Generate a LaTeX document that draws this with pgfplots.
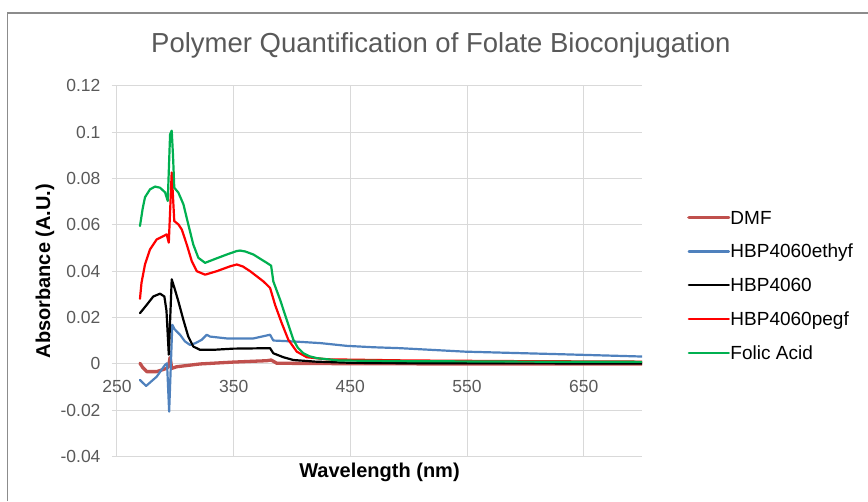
\documentclass[border=0pt]{standalone}
\usepackage{pgfplots}
\pgfplotsset{compat=1.18}
\usepackage{fontspec}
\setmainfont{Liberation Sans}
\definecolor{dmfc}{RGB}{192,80,77}
\definecolor{ethc}{RGB}{79,129,189}
\definecolor{folc}{RGB}{0,176,80}
\definecolor{txtgray}{RGB}{89,89,89}
\definecolor{gridc}{RGB}{217,217,217}
\definecolor{framec}{RGB}{140,140,140}
\begin{document}
\begin{tikzpicture}
\path[use as bounding box] (0pt,0pt) rectangle (868pt,501pt);
\draw[color=framec, line width=1.2pt] (7.3pt,0pt) -- (7.3pt,488pt) -- (868pt,488pt);
\begin{axis}[
  at={(117pt,44.3pt)}, anchor=south west,
  scale only axis, width=525pt, height=371pt,
  xmin=250, xmax=700, ymin=-0.04, ymax=0.12,
  xtick={250,350,450,550,650},
  xticklabels={250,350,450,550,650},
  ytick={-0.04,-0.02,0,0.02,0.04,0.06,0.08,0.1,0.12},
  yticklabels={-0.04,-0.02,0,0.02,0.04,0.06,0.08,0.1,0.12},
  axis lines*=left,
  axis line style={draw=gridc, line width=1pt},
  grid=major,
  major grid style={draw=gridc, line width=1pt},
  tick align=outside,
  ytick style={draw=gridc, line width=1pt},
  major tick length=5pt,
  xtick style={draw=none},
  tick label style={font=\fontsize{17.5}{21}\selectfont, text=txtgray},
  xticklabel style={yshift=85pt},
  yticklabel style={xshift=-8pt},
  title={Polymer Quantification of Folate Bioconjugation},
  title style={at={(axis description cs:0.617,1.0935)}, anchor=center, font=\fontsize{27.5}{32}\selectfont, text=txtgray},
  xlabel={Wavelength (nm)},
  xlabel style={at={(axis description cs:0.5,-0.0414)}, anchor=center, font=\fontsize{20}{24}\selectfont\bfseries},
  ylabel={Absorbance (A.U.)},
  every axis y label/.style={at={(axis description cs:-0.137,0.5)}, anchor=center, rotate=90, font=\fontsize{20}{24}\selectfont\bfseries},
  legend style={at={(axis description cs:1.0857,0.4574)}, anchor=west, draw=none, fill=none, inner sep=0pt,
    font=\fontsize{19}{22}\selectfont, row sep=16.3pt,
    nodes={inner sep=0pt, text height=13.5pt, text depth=4pt},
    /tikz/every even column/.append style={column sep=3pt}},
  legend cell align=left,
  legend image code/.code={\draw[#1] (0pt,1.7pt) -- (40pt,1.7pt);},
  every axis plot/.append style={line join=round, line cap=round},
]
\addplot[color=dmfc, line width=3.3pt] coordinates {
(269.7,0.0003)(272,-0.0015)(275.5,-0.0033)(284.0,-0.0033)(292.6,-0.0019)(294.2,-0.0010)(295.5,0.0028)(296.9,-0.0019)(301.2,-0.0012)(321.2,0.0000)(349.5,0.0008)(378.4,0.0014)(382.1,0.0017)(387.0,0.0003)(450,0.0001)(550,0.0000)(700,0.0000)
};
\addlegendentry{DMF}
\addplot[color=ethc, line width=2.2pt] coordinates {
(269.7,-0.0069)(274.9,-0.0095)(284.0,-0.0055)(291.2,-0.0004)(292.9,0.0003)(294.7,-0.0206)(297.4,0.0169)(299.3,0.0150)(301.2,0.0140)(304.0,0.0126)(308.3,0.0097)(312.6,0.0082)(316.9,0.0089)(322.6,0.0104)(326.9,0.0126)(329.8,0.0118)(344.1,0.0110)(366.9,0.0110)(381.2,0.0126)(384.0,0.0101)(401.2,0.0097)(424.1,0.0090)(447.0,0.0078)(469.8,0.0072)(492.7,0.0068)(548.4,0.0053)(629.9,0.0042)(700,0.0032)
};
\addlegendentry{HBP4060ethyf}
\addplot[color=black, line width=2.2pt] coordinates {
(269.7,0.0219)(275.5,0.0255)(281.1,0.0291)(286.9,0.0303)(290.6,0.0291)(292.4,0.0230)(294.4,0.0040)(296.9,0.0365)(299.7,0.0320)(302.6,0.0270)(306.9,0.0190)(311.1,0.0118)(315.4,0.0075)(321.2,0.0061)(332.6,0.0061)(349.5,0.0066)(381.2,0.0068)(384.0,0.0046)(392.6,0.0029)(401.2,0.0017)(420,0.0010)(450,0.0005)(500,0.0003)(700,0.0002)
};
\addlegendentry{HBP4060}
\addplot[color=red, line width=2.2pt] coordinates {
(269.7,0.0281)(271,0.035)(274.0,0.0429)(278.3,0.0494)(284.0,0.0537)(289.7,0.0551)(292.6,0.0559)(294.4,0.0523)(296.9,0.0826)(299.1,0.0616)(302.6,0.0602)(305.5,0.0580)(309.8,0.0515)(314.1,0.0443)(318.4,0.0400)(325.5,0.0385)(335.5,0.0400)(346.9,0.0421)(352.7,0.0429)(358,0.0420)(364.1,0.0400)(375.5,0.0356)(381.2,0.0328)(385.5,0.0255)(391.2,0.0176)(396.9,0.0104)(404.1,0.0053)(412.7,0.0029)(430,0.0020)(500,0.0015)(600,0.0012)(700,0.0010)
};
\addlegendentry{HBP4060pegf}
\addplot[color=folc, line width=2.2pt] coordinates {
(269.7,0.0595)(272,0.067)(274.0,0.0719)(278.3,0.0753)(282.6,0.0765)(286.9,0.0760)(291.2,0.0740)(293.5,0.0703)(295.5,0.0990)(296.9,0.1006)(298,0.090)(299.1,0.0760)(302.6,0.0739)(306.9,0.0689)(311.1,0.0602)(315.4,0.0515)(319.7,0.0458)(325.5,0.0436)(332.6,0.0450)(344.1,0.0472)(352.7,0.0487)(355.5,0.0489)(360,0.0485)(366.9,0.0472)(378.4,0.0436)(382.1,0.0424)(384.0,0.0356)(389.8,0.0277)(395.5,0.0190)(401.2,0.0104)(405,0.007)(409.8,0.0046)(415,0.0033)(421.3,0.0025)(440,0.0015)(500,0.0012)(600,0.0010)(700,0.0009)
};
\addlegendentry{Folic Acid}
\end{axis}
\end{tikzpicture}
\end{document}
